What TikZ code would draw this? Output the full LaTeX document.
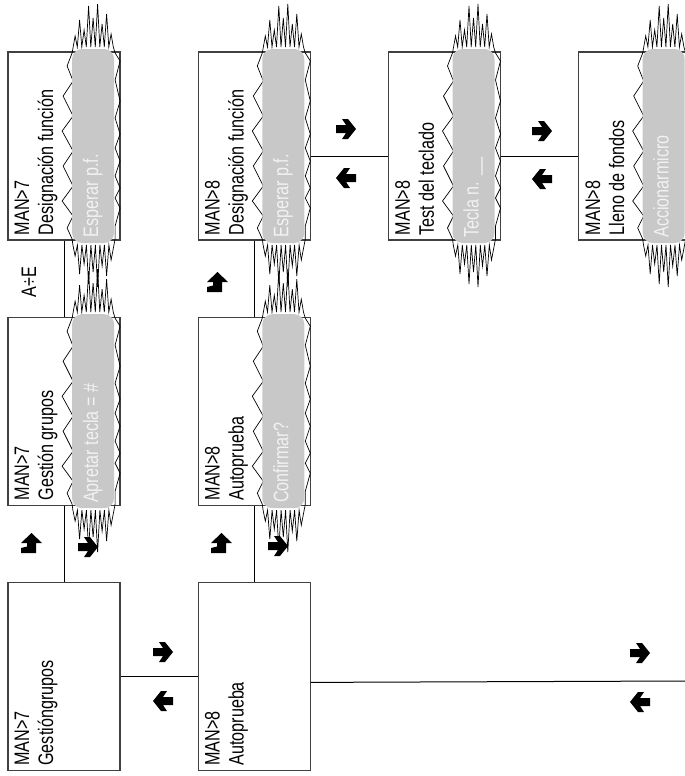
\documentclass[tikz,border=0pt]{standalone}
\usepackage{fontspec}
\setmainfont{Liberation Sans}[FakeStretch=0.77]
\usetikzlibrary{positioning}
\definecolor{pillgray}{RGB}{200,200,200}
\definecolor{pillfont}{RGB}{242,242,242}
\tikzset{box/.style = {draw = black!75, line width = 0.6pt,
                       minimum width = 56pt, minimum height = 94pt, inner sep = 0}}
\tikzset{boxtext/.style = {rotate = 90, anchor = north west, align = left,
                           inner xsep = 2.5pt, inner ysep = 3.5pt,
                           font = \fontsize{10.5}{12}\selectfont}}
\tikzset{pill/.style = {fill = pillgray, rounded corners = 5pt,
                        minimum width = 21pt, minimum height = 97pt, inner sep = 0}}
\tikzset{pilltext/.style = {rotate = 90, anchor = base west, text = pillfont, inner sep = 0,
                            font = \fontsize{10.5}{12}\selectfont}}
\tikzset{link/.style = {line width = 0.5pt}}
\tikzset{spikes/.style = {line width = 0.35pt}}
\tikzset{pics/burst/.style = {code = {
    \draw [spikes] (-21, -93)
        \foreach \x/\h in {-18/110, -13.5/126, -9/116, -4.5/140, 0/128, 4.5/142, 9/122, 13.5/132, 18/112}
            { -- (\x, -\h) -- (\x + 2.2, -99) }
        -- (22, -93) -- (27, -85) -- (22, -66) -- (27, -45) -- (22, -28) -- (27, -12) -- (22, 2)
        -- (27, 15) -- (22, 30) -- (27, 42) -- (22, 52) -- (27, 62) -- (22, 80) -- (22, 93)
        \foreach \x/\h in {18/114, 13.5/130, 9/120, 4.5/141, 0/126, -4.5/138, -9/118, -13.5/128, -18/110}
            { -- (\x, \h) -- (\x - 2.2, 99) }
        -- (-21, 93) -- (-26, 82) -- (-20, 70) -- (-31, 55) -- (-20, 40) -- (-30, 20) -- (-20, 5)
        -- (-31, -15) -- (-20, -30) -- (-30, -50) -- (-20, -65) -- (-26, -80) -- cycle;
    \node [pill] (-pill) {};
    \node [pilltext] (-text) at (5, 92) {#1};
}}}
\tikzset{pics/rarrow/.style = {code = {
    \fill (-10, -4) -- (0, -4) -- (-4, -10) -- (2, -10) -- (10, 0) -- (2, 10) -- (-4, 10)
        -- (0, 4) -- (-10, 4) -- cycle;
}}}
\tikzset{pics/uarrow/.style = {code = {
    \fill (-10, 0) -- (0.5, -10) -- (11, 0) -- (5, 0) -- (5, 10) -- (-10, 10) -- (-10, 5)
        -- (-4, 3.5) -- (-4, 0) -- cycle;
}}}

\begin{document}
\begin{tikzpicture}[x = 0.5pt, y = -0.5pt, node distance = 38pt and 38.5pt]
    \useasboundingbox (0, 0) rectangle (685, 776);

    \node [box] (a1) at (64, 146) {};
    \node [box, below = of a1] (b1) {};
    \node [box, below = of b1] (c1) {};
    \node [box, right = of a1] (a2) {};
    \node [box, below = of a2] (b2) {};
    \node [box, below = of b2] (c2) {};
    \node [box, right = of a2] (d) {};
    \node [box, right = of d] (e) {};

    \draw [link] (a1) -- (b1);
    \draw [link] (b1) -- (c1);
    \draw [link] (a2) -- (b2);
    \draw [link] (b2) -- (c2);
    \draw [link] (c1) -- (c2);
    \coordinate (cend) at (685, 681);
    \draw [link] ([yshift = -3pt] c2.east) -- (cend);
    \draw [link] ([yshift = -5pt] a2.east) -- ([yshift = -5pt] d.west);
    \draw [link] ([yshift = -5pt] d.east) -- ([yshift = -5pt] e.west);

    \pic (a1p) at ([xshift = -13.75pt] a1.east) {burst = {Esperar p.f.}};
    \pic (b1p) at ([xshift = -13.75pt] b1.east) {burst = {Apretar tecla = \#}};
    \pic (a2p) at ([xshift = -13.75pt] a2.east) {burst = {Esperar p.f.}};
    \pic (b2p) at ([xshift = -13.75pt] b2.east) {burst = {Confirmar?}};
    \pic (dp) at ([xshift = -13.75pt] d.east) {burst = {Tecla n. \_\_}};
    \pic (ep) at ([xshift = -13.75pt] e.east) {burst = {Accionarmicro}};

    \node [boxtext] (a1t) at (a1.south west) {MAN>7\\Designación función};
    \node [boxtext] (b1t) at (b1.south west) {MAN>7\\Gestión grupos};
    \node [boxtext] (c1t) at (c1.south west) {MAN>7\\Gestióngrupos};
    \node [boxtext] (a2t) at (a2.south west) {MAN>8\\Designación función};
    \node [boxtext] (b2t) at (b2.south west) {MAN>8\\Autoprueba};
    \node [boxtext] (c2t) at (c2.south west) {MAN>8\\Autoprueba};
    \node [boxtext] (dt) at (d.south west) {MAN>8\\Test del teclado};
    \node [boxtext] (et) at (e.south west) {MAN>8\\Lleno de fondos};

    \node [rotate = 90, inner sep = 0, font = \fontsize{10.5}{12}\selectfont] (ae) at (29, 282) {A÷E};

    % flechas
    \pic at (346, 129) {rarrow};
    \pic [rotate = 180] at (346, 178) {rarrow};
    \pic at (542, 131) {rarrow};
    \pic [rotate = 180] at (542, 179) {rarrow};
    \pic at (163, 652) {rarrow};
    \pic [rotate = 180] at (163, 701) {rarrow};
    \pic at (640, 653) {rarrow};
    \pic [rotate = 180] at (640, 702) {rarrow};
    \pic at (88, 547) {rarrow};
    \pic at (278, 546) {rarrow};
    \pic at (31, 543) {uarrow};
    \pic at (221, 543) {uarrow};
    \pic at (217, 282) {uarrow};
\end{tikzpicture}
\end{document}
